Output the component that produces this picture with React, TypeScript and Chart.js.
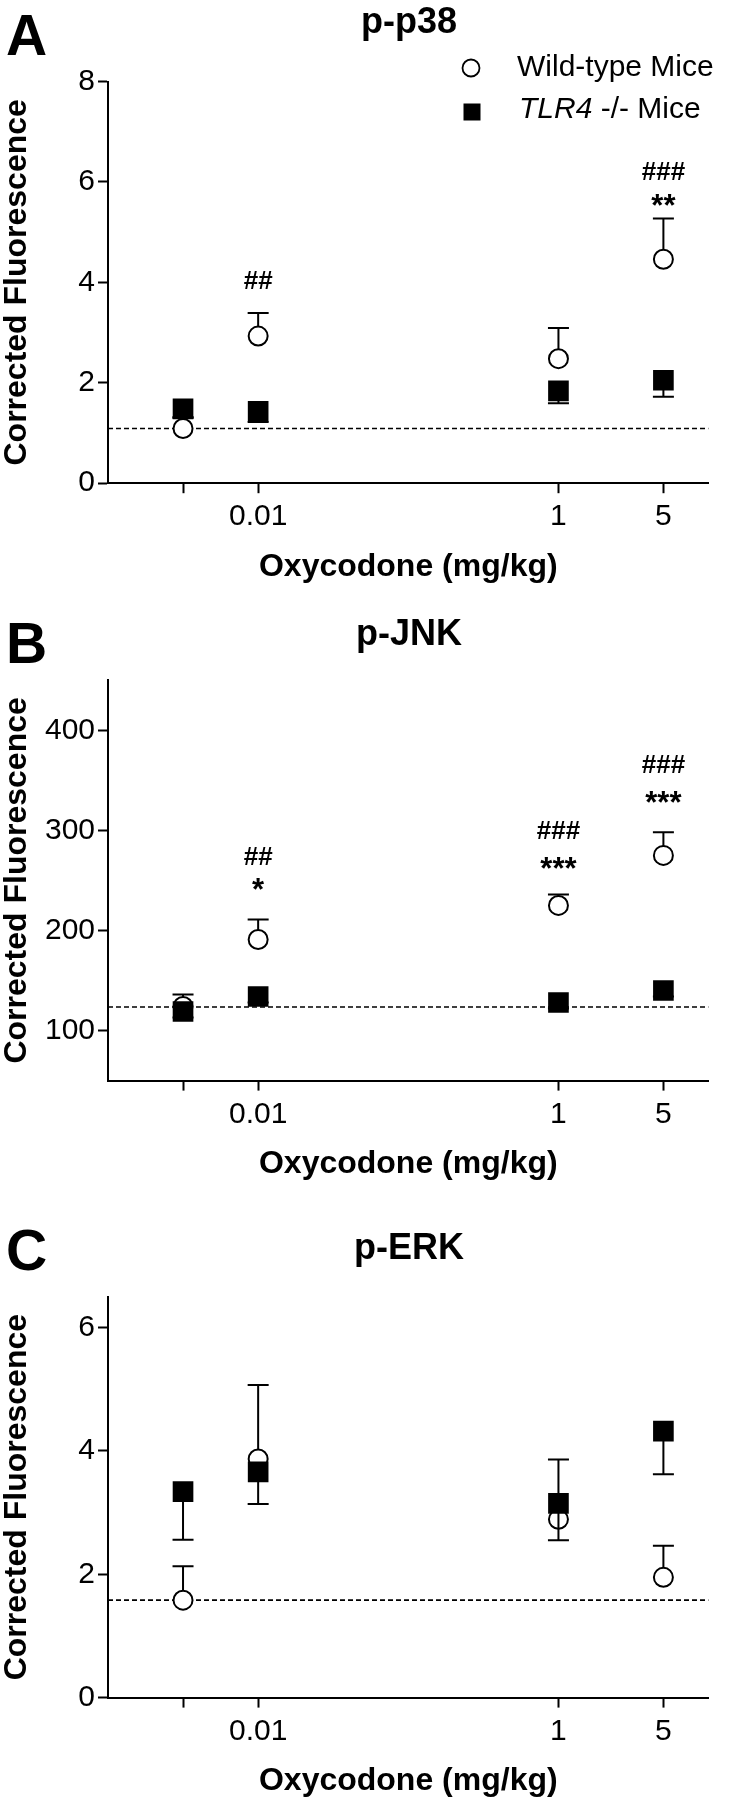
import React, { useEffect, useRef } from "react";
import { Chart, registerables } from "chart.js";

Chart.register(...registerables);

const FONT = '"Liberation Sans", Arial, Helvetica, sans-serif';
Chart.defaults.font.family = FONT;
Chart.defaults.color = "#000";

// ---- shared x axis (log dose axis, control plotted left of 0.01) ----
const doseTickLabels = ["", "0.01", "1", "5"];
const dosePositions = [0.00316, 0.01, 1, 5];
const doseAxisMin = 0.001;
const doseAxisMax = 10;

// ---- Panel A: p-p38 ----
const p38Wild = [1.09, 2.93, 2.48, 4.46];
const p38WildSem = [0.21, 0.46, 0.61, 0.81];
const p38Tlr4 = [1.48, 1.43, 1.84, 2.05];
const p38Tlr4Sem = [0.16, 0.21, 0.25, 0.33];
const p38Baseline = 1.09;
const p38YTicks = [0, 2, 4, 6, 8];
const p38Marks = [
  { dose: 1, y: 4.06, text: "##" },
  { dose: 3, y: 6.22, text: "###" },
  { dose: 3, y: 5.68, text: "**" },
];

// ---- Panel B: p-JNK ----
const jnkWild = [124, 191, 225, 275];
const jnkWildSem = [12, 20, 11, 23];
const jnkTlr4 = [119, 134, 128, 140];
const jnkTlr4Sem = [6, 6, 6, 6];
const jnkBaseline = 123.5;
const jnkYTicks = [100, 200, 300, 400];
const jnkMarks = [
  { dose: 1, y: 275, text: "##" },
  { dose: 1, y: 248, text: "*" },
  { dose: 2, y: 300.6, text: "###" },
  { dose: 2, y: 269, text: "***" },
  { dose: 3, y: 366.6, text: "###" },
  { dose: 3, y: 335.4, text: "***" },
];

// ---- Panel C: p-ERK ----
const erkWild = [1.58, 3.87, 2.89, 1.95];
const erkWildSem = [0.55, 1.2, 0.97, 0.51];
const erkTlr4 = [3.34, 3.66, 3.15, 4.32];
const erkTlr4Sem = [0.78, 0.52, 0.6, 0.7];
const erkBaseline = 1.58;
const erkYTicks = [0, 2, 4, 6];
const erkMarks: { dose: number; y: number; text: string }[] = [];

const yTitle = "Corrected Fluorescence";
const xTitle = "Oxycodone (mg/kg)";
const wildLabel = "Wild-type Mice";
const tlr4LabelItalic = "TLR4";
const tlr4LabelRest = " -/- Mice";

type PanelCfg = {
  letter: string;
  title: string;
  wild: number[];
  wildSem: number[];
  tlr4: number[];
  tlr4Sem: number[];
  baseline: number;
  yMin: number;
  yMax: number;
  yTicks: number[];
  marks: { dose: number; y: number; text: string }[];
  legend: boolean;
  // layout
  top: number;
  height: number;
  areaTop: number;
  areaBottom: number;
  letterBaseline: number;
  titleY: number;
};

const panels: PanelCfg[] = [
  {
    letter: "A", title: "p-p38",
    wild: p38Wild, wildSem: p38WildSem, tlr4: p38Tlr4, tlr4Sem: p38Tlr4Sem,
    baseline: p38Baseline, yMin: 0, yMax: 8, yTicks: p38YTicks, marks: p38Marks, legend: true,
    top: 0, height: 590, areaTop: 81.5, areaBottom: 483.2, letterBaseline: 55, titleY: 23,
  },
  {
    letter: "B", title: "p-JNK",
    wild: jnkWild, wildSem: jnkWildSem, tlr4: jnkTlr4, tlr4Sem: jnkTlr4Sem,
    baseline: jnkBaseline, yMin: 50, yMax: 450, yTicks: jnkYTicks, marks: jnkMarks, legend: false,
    top: 590, height: 600, areaTop: 90.2, areaBottom: 490.6, letterBaseline: 73, titleY: 45,
  },
  {
    letter: "C", title: "p-ERK",
    wild: erkWild, wildSem: erkWildSem, tlr4: erkTlr4, tlr4Sem: erkTlr4Sem,
    baseline: erkBaseline, yMin: 0, yMax: 6.5, yTicks: erkYTicks, marks: erkMarks, legend: false,
    top: 1190, height: 610, areaTop: 106.7, areaBottom: 507.6, letterBaseline: 80, titleY: 59,
  },
];

const X_AXIS_H = 60;
const Y_AXIS_W = 108;
const RIGHT_PAD = 21.4;
const TICK_FONT = 30;

const errorBarPlugin = {
  id: "errorBars",
  beforeDatasetDraw(chart: any, args: any) {
    const ds = chart.data.datasets[args.index];
    if (!ds.errorValues) return;
    const meta = args.meta;
    const yScale = chart.scales.y;
    const ctx = chart.ctx;
    ctx.save();
    ctx.strokeStyle = "#000";
    ctx.lineWidth = 2;
    ds.data.forEach((pt: any, i: number) => {
      const el = meta.data[i];
      if (!el) return;
      const endVal = pt.y + ds.errorDir * ds.errorValues[i];
      const ey = yScale.getPixelForValue(endVal);
      ctx.beginPath();
      ctx.moveTo(el.x, el.y);
      ctx.lineTo(el.x, ey);
      ctx.moveTo(el.x - 10.5, ey);
      ctx.lineTo(el.x + 10.5, ey);
      ctx.stroke();
    });
    ctx.restore();
  },
};

function makeTextPlugin(cfg: PanelCfg) {
  return {
    id: "panelText",
    afterDraw(chart: any) {
      const ctx = chart.ctx;
      const area = chart.chartArea;
      const xs = chart.scales.x;
      const ys = chart.scales.y;
      ctx.save();
      ctx.fillStyle = "#000";

      // panel letter
      ctx.font = `bold 57px ${FONT}`;
      ctx.textAlign = "left";
      ctx.textBaseline = "alphabetic";
      ctx.fillText(cfg.letter, 6, cfg.letterBaseline);

      // title
      ctx.font = `bold 36px ${FONT}`;
      ctx.textAlign = "center";
      ctx.textBaseline = "middle";
      ctx.fillText(cfg.title, 409, cfg.titleY);

      // x title
      ctx.font = `bold 32px ${FONT}`;
      ctx.fillText(xTitle, (area.left + area.right) / 2, area.bottom + 84);

      // y title
      ctx.save();
      ctx.translate(17, (area.top + area.bottom) / 2);
      ctx.rotate(-Math.PI / 2);
      ctx.fillText(yTitle, 0, 0);
      ctx.restore();

      // significance marks
      cfg.marks.forEach((m) => {
        const px = xs.getPixelForValue(dosePositions[m.dose]);
        const py = ys.getPixelForValue(m.y);
        ctx.textAlign = "center";
        ctx.textBaseline = "alphabetic";
        if (m.text.startsWith("#")) {
          ctx.font = `bold 26px ${FONT}`;
          ctx.fillText(m.text, px, py + 0.36 * 26);
        } else {
          ctx.font = `bold 31px ${FONT}`;
          ctx.fillText(m.text, px, py + 0.58 * 31);
        }
      });

      // legend
      if (cfg.legend) {
        ctx.lineWidth = 1.8;
        ctx.strokeStyle = "#000";
        ctx.fillStyle = "#fff";
        ctx.beginPath();
        ctx.arc(471, 68, 8.5, 0, Math.PI * 2);
        ctx.fill();
        ctx.stroke();
        ctx.fillStyle = "#000";
        ctx.fillRect(472 - 8.5, 112 - 8.5, 17, 17);
        ctx.textAlign = "left";
        ctx.textBaseline = "middle";
        ctx.font = `30px ${FONT}`;
        ctx.fillText(wildLabel, 517, 68);
        ctx.font = `italic 30px ${FONT}`;
        ctx.fillText(tlr4LabelItalic, 519, 110);
        const w = ctx.measureText(tlr4LabelItalic).width;
        ctx.font = `30px ${FONT}`;
        ctx.fillText(tlr4LabelRest, 519 + w, 110);
      }
      ctx.restore();
    },
  };
}

function Panel({ cfg }: { cfg: PanelCfg }) {
  const ref = useRef<HTMLCanvasElement>(null);
  useEffect(() => {
    const canvas = ref.current!;
    const chart = new Chart(canvas, {
      type: "scatter",
      data: {
        datasets: [
          {
            label: wildLabel,
            data: dosePositions.map((x, i) => ({ x, y: cfg.wild[i] })),
            pointStyle: "circle",
            pointRadius: 9.5,
            pointBorderWidth: 2,
            pointBackgroundColor: "#fff",
            pointBorderColor: "#000",
            showLine: false,
            order: 2,
            errorValues: cfg.wildSem,
            errorDir: 1,
          } as any,
          {
            label: "TLR4 -/- Mice",
            data: dosePositions.map((x, i) => ({ x, y: cfg.tlr4[i] })),
            pointStyle: "rect",
            pointRadius: 14.6,
            pointBorderWidth: 0,
            pointBackgroundColor: "#000",
            pointBorderColor: "#000",
            showLine: false,
            order: 1,
            errorValues: cfg.tlr4Sem,
            errorDir: -1,
          } as any,
          {
            label: "baseline",
            data: [
              { x: doseAxisMin, y: cfg.baseline },
              { x: doseAxisMax, y: cfg.baseline },
            ],
            showLine: true,
            borderColor: "#000",
            borderWidth: 1.6,
            borderDash: [5, 3],
            pointRadius: 0,
            order: 3,
          } as any,
        ],
      },
      options: {
        responsive: false,
        animation: false,
        devicePixelRatio: 1,
        events: [],
        layout: {
          padding: {
            left: 0,
            right: RIGHT_PAD,
            top: cfg.areaTop,
            bottom: cfg.height - cfg.areaBottom - X_AXIS_H,
          },
        },
        plugins: {
          legend: { display: false },
          tooltip: { enabled: false },
          title: { display: false },
        },
        scales: {
          x: {
            type: "logarithmic",
            position: "bottom",
            min: doseAxisMin,
            max: doseAxisMax,
            afterBuildTicks: (s: any) => {
              s.ticks = dosePositions.map((v) => ({ value: v }));
            },
            afterFit: (s: any) => {
              s.height = X_AXIS_H;
            },
            ticks: {
              callback: (_v: any, i: number) => doseTickLabels[i],
              font: { family: FONT, size: TICK_FONT },
              color: "#000",
              padding: 6,
              autoSkip: false,
              maxRotation: 0,
              minRotation: 0,
            },
            grid: {
              display: true,
              drawOnChartArea: false,
              drawTicks: true,
              tickLength: 10,
              tickWidth: 2,
              tickColor: "#000",
              color: "#000",
            },
            border: { display: true, color: "#000", width: 2 },
          } as any,
          y: {
            type: "linear",
            min: cfg.yMin,
            max: cfg.yMax,
            afterBuildTicks: (s: any) => {
              s.ticks = cfg.yTicks.map((v) => ({ value: v }));
            },
            afterFit: (s: any) => {
              s.width = Y_AXIS_W;
            },
            ticks: {
              callback: (v: any) => String(v),
              font: { family: FONT, size: TICK_FONT },
              color: "#000",
              padding: 3,
            },
            grid: {
              display: true,
              drawOnChartArea: false,
              drawTicks: true,
              tickLength: 10,
              tickWidth: 2,
              tickColor: "#000",
              color: "#000",
            },
            border: { display: true, color: "#000", width: 2 },
          } as any,
        },
      },
      plugins: [errorBarPlugin as any, makeTextPlugin(cfg) as any],
    });
    return () => chart.destroy();
  }, [cfg]);
  return (
    <div style={{ position: "absolute", left: 0, top: cfg.top, width: 730, height: cfg.height }}>
      <canvas
        ref={ref}
        width={730}
        height={cfg.height}
        style={{ display: "block", width: 730, height: cfg.height }}
      />
    </div>
  );
}

export default function App() {
  return (
    <div style={{ position: "absolute", left: 0, top: 0, width: 730, height: 1800, background: "#fff" }}>
      {panels.map((p) => (
        <Panel key={p.letter} cfg={p} />
      ))}
    </div>
  );
}
